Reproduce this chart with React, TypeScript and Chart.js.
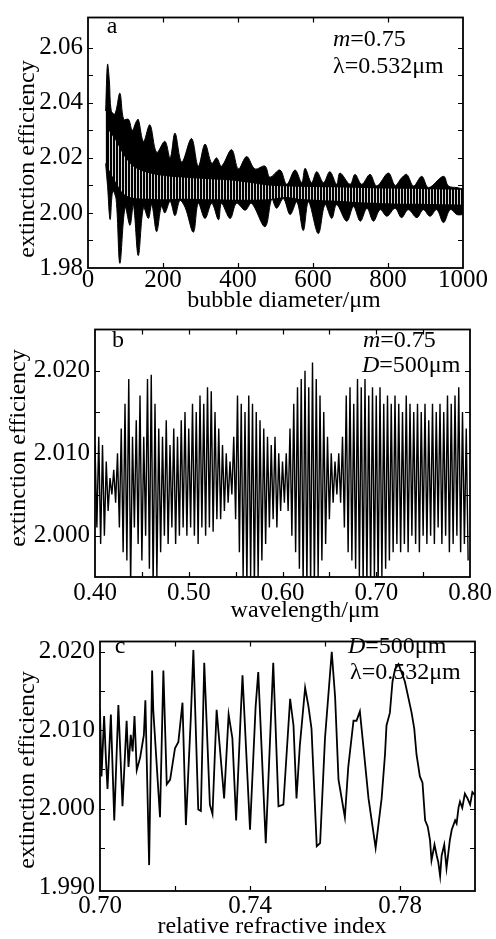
import React, { useEffect, useRef } from 'react';
import { Chart, registerables } from 'chart.js';

Chart.register(...registerables);

const SERIF = '"Liberation Serif", "Times New Roman", serif';

// ---------- Panel a: extinction efficiency vs bubble diameter (envelope of dense oscillation) ----------
const aUpperD = [47, 52, 57, 62, 72, 85, 95, 108, 118, 128, 134, 148, 165, 183, 205, 219, 232, 250, 276, 294, 312, 330, 343, 356, 383, 401, 423, 445, 472, 485, 512, 530, 552, 570, 579, 596, 610, 628, 645, 663, 672, 699, 712, 730, 752, 770, 801, 819, 836, 850, 868, 890, 908, 948, 961, 984, 1000];
const aUpperQ = [2.037, 2.054, 2.048, 2.037, 2.036, 2.0435, 2.034, 2.034, 2.030, 2.033, 2.034, 2.026, 2.032, 2.022, 2.026, 2.020, 2.029, 2.0185, 2.027, 2.017, 2.025, 2.018, 2.020, 2.017, 2.023, 2.016, 2.0205, 2.016, 2.017, 2.013, 2.0156, 2.0104, 2.0156, 2.011, 2.0162, 2.011, 2.015, 2.011, 2.015, 2.0104, 2.0145, 2.0104, 2.014, 2.0104, 2.014, 2.0098, 2.0145, 2.0100, 2.0127, 2.014, 2.0098, 2.0133, 2.0092, 2.0133, 2.0098, 2.0092, 2.0087];
const aLowerD = [47, 52, 59, 66, 75, 85, 99, 112, 121, 134, 148, 161, 170, 183, 196, 205, 219, 232, 245, 259, 281, 294, 312, 330, 348, 356, 379, 396, 419, 436, 472, 490, 503, 521, 539, 557, 574, 588, 614, 632, 650, 663, 690, 708, 726, 744, 761, 779, 797, 819, 836, 854, 877, 894, 912, 930, 948, 966, 984, 1000];
const aLowerQ = [2.018, 2.010, 1.9976, 2.008, 2.005, 1.9817, 2.002, 1.9955, 2.003, 1.9845, 2.002, 1.998, 2.003, 1.9932, 2.0025, 2.000, 2.0042, 1.999, 2.0045, 2.002, 1.993, 2.0035, 1.998, 2.0035, 1.9975, 2.0035, 1.998, 2.0035, 2.001, 2.0035, 1.995, 2.005, 2.0017, 2.0052, 1.9994, 2.004, 1.9936, 2.004, 1.9925, 2.003, 1.998, 2.003, 1.997, 2.0023, 1.997, 2.0017, 1.997, 2.0012, 1.9988, 2.0017, 1.9983, 2.0012, 1.9983, 2.0012, 1.9988, 2.0012, 1.9965, 2.0012, 1.9994, 1.9994];
const aBandD = [55, 75, 95, 120, 150, 200, 260, 330, 400, 480, 530, 560, 650, 750, 850, 1000];
const aBandTop = [2.030, 2.026, 2.021, 2.017, 2.015, 2.0135, 2.0128, 2.0122, 2.0115, 2.0100, 2.0097, 2.0095, 2.0093, 2.0090, 2.0088, 2.0084];
const aBandBottom = [2.016, 2.011, 2.007, 2.0055, 2.0052, 2.005, 2.0052, 2.005, 2.0048, 2.005, 2.0058, 2.0052, 2.0045, 2.0037, 2.0033, 2.003];
const aXTicks = [0, 200, 400, 600, 800, 1000];
const aYTicks = [1.98, 2.0, 2.02, 2.04, 2.06];
const aXMarks = [200, 400, 600, 800];
const aYMarks = [1.99, 2.0, 2.01, 2.02, 2.03, 2.04, 2.05, 2.06];

// ---------- Panel b: extinction efficiency vs wavelength (alternating crests / troughs) ----------
const bStart = 0.4;
const bStep = 0.004;
const bHigh = [2.011, 2.012, 2.011, 2.009, 2.007, 2.008, 2.010, 2.013, 2.016, 2.019, 2.012, 2.014, 2.017, 2.012, 2.019, 2.0195, 2.016, 2.013, 2.012, 2.014, 2.011, 2.013, 2.012, 2.014, 2.015, 2.013, 2.016, 2.015, 2.017, 2.016, 2.018, 2.0175, 2.015, 2.013, 2.011, 2.010, 2.009, 2.012, 2.017, 2.016, 2.015, 2.017, 2.016, 2.015, 2.014, 2.013, 2.012, 2.011, 2.012, 2.010, 2.009, 2.010, 2.013, 2.016, 2.018, 2.019, 2.020, 2.018, 2.021, 2.019, 2.017, 2.015, 2.012, 2.010, 2.009, 2.010, 2.012, 2.017, 2.018, 2.016, 2.019, 2.018, 2.019, 2.017, 2.018, 2.017, 2.018, 2.016, 2.017, 2.016, 2.017, 2.016, 2.015, 2.017, 2.016, 2.015, 2.016, 2.015, 2.016, 2.014, 2.016, 2.015, 2.016, 2.015, 2.017, 2.016, 2.017, 2.018, 2.015, 2.013];
const bLow = [2.001, 1.999, 2.000, 2.003, 2.005, 2.004, 2.001, 1.998, 1.997, 1.994, 2.001, 1.999, 1.997, 2.000, 1.996, 1.994, 1.995, 1.998, 2.000, 1.999, 2.001, 1.999, 2.000, 2.001, 2.000, 2.001, 2.000, 1.999, 2.001, 2.000, 2.001, 2.0005, 2.002, 2.002, 2.003, 2.004, 2.005, 2.002, 1.998, 1.995, 1.994, 1.995, 1.994, 1.995, 1.997, 1.999, 2.001, 2.002, 2.001, 2.003, 2.004, 2.003, 2.000, 1.998, 1.996, 1.994, 1.994, 1.994, 1.994, 1.995, 1.997, 1.999, 2.002, 2.004, 2.005, 2.004, 2.001, 1.998, 1.997, 1.996, 1.995, 1.994, 1.994, 1.994, 1.995, 1.994, 1.995, 1.996, 1.997, 1.998, 1.999, 1.998, 1.999, 1.998, 2.000, 1.999, 1.998, 2.000, 1.999, 2.000, 1.999, 2.001, 1.999, 2.000, 1.998, 1.999, 2.000, 1.998, 1.999, 1.997];
const bXTicks = [0.4, 0.5, 0.6, 0.7, 0.8];
const bYTicks = [2.0, 2.01, 2.02];
const bXMarks = [0.45, 0.5, 0.55, 0.6, 0.65, 0.7, 0.75];
const bYMarks = [2.0, 2.005, 2.01, 2.015, 2.02];

// ---------- Panel c: extinction efficiency vs relative refractive index ----------
const cIndex = [0.7000, 0.7004, 0.7011, 0.7016, 0.7020, 0.7029, 0.7038, 0.7049, 0.7060, 0.7071, 0.7076, 0.7082, 0.7087, 0.7092, 0.7098, 0.7107, 0.7117, 0.7121, 0.7131, 0.7139, 0.7142, 0.7160, 0.7169, 0.7178, 0.7187, 0.7200, 0.7209, 0.7220, 0.7229, 0.7242, 0.7249, 0.7262, 0.7269, 0.7278, 0.7293, 0.7300, 0.7311, 0.7331, 0.7343, 0.7353, 0.7363, 0.7375, 0.7380, 0.7400, 0.7415, 0.7422, 0.7442, 0.7462, 0.7476, 0.7489, 0.7507, 0.7516, 0.7524, 0.7533, 0.7547, 0.7556, 0.7564, 0.7578, 0.7587, 0.7600, 0.7618, 0.7627, 0.7636, 0.7653, 0.7662, 0.7676, 0.7684, 0.7693, 0.7702, 0.7716, 0.7735, 0.7751, 0.7760, 0.7764, 0.7773, 0.7780, 0.7787, 0.7796, 0.7804, 0.7813, 0.7831, 0.7838, 0.7844, 0.7853, 0.7860, 0.7867, 0.7874, 0.7880, 0.7884, 0.7892, 0.7898, 0.7902, 0.7907, 0.7911, 0.7918, 0.7924, 0.7933, 0.7938, 0.7947, 0.7951, 0.7956, 0.7960, 0.7966, 0.7973, 0.7980, 0.7987, 0.7993, 0.8000];
const cQext = [2.0126, 2.0041, 2.0118, 2.0061, 2.0025, 2.0120, 1.9985, 2.0132, 2.0003, 2.0112, 2.0053, 2.0094, 2.0073, 2.0118, 2.0049, 2.0065, 2.0094, 2.0138, 1.9928, 2.0176, 2.0126, 1.9989, 2.0176, 2.0031, 2.0037, 2.0077, 2.0085, 2.0135, 1.9979, 2.0114, 2.0202, 1.9999, 1.9997, 2.0186, 2.0005, 1.9993, 2.0126, 2.0013, 2.0120, 2.0090, 1.9985, 2.0118, 2.0170, 1.9973, 2.0130, 2.0174, 1.9956, 2.0186, 2.0003, 2.0005, 2.0140, 2.0106, 2.0013, 2.0081, 2.0154, 2.0130, 2.0102, 1.9952, 1.9956, 2.0090, 2.0200, 2.0142, 2.0037, 1.9989, 2.0053, 2.0112, 2.0112, 2.0124, 2.0081, 2.0013, 1.9950, 2.0013, 2.0069, 2.0106, 2.0122, 2.0162, 2.0178, 2.0184, 2.0174, 2.0162, 2.0122, 2.0102, 2.0069, 2.0041, 2.0033, 1.9985, 1.9977, 1.9960, 1.9934, 1.9954, 1.9940, 1.9932, 1.9914, 1.9940, 1.9954, 1.9924, 1.9960, 1.9973, 1.9985, 1.9981, 2.0001, 2.0009, 2.0001, 2.0019, 2.0013, 2.0005, 2.0021, 2.0017];
const cXTicks = [0.7, 0.74, 0.78];
const cYTicks = [1.99, 2.0, 2.01, 2.02];
const cXMarks = [0.72, 0.74, 0.76, 0.78];
const cYMarks = [1.995, 2.0, 2.005, 2.01, 2.015, 2.02];

const pts = (xs: number[], ys: number[]) => xs.map((x, i) => ({ x, y: ys[i] }));

// frame with inward tick marks on all four sides
const framePlugin = {
  id: 'frame',
  afterDatasetsDraw(chart: any, _args: any, opts: any) {
    const { ctx, chartArea } = chart;
    const { left, right, top, bottom } = chartArea;
    const xs = chart.scales.x;
    const ys = chart.scales.y;
    const L = opts.len || 5;
    ctx.save();
    ctx.strokeStyle = '#000';
    ctx.lineWidth = 1.2;
    ctx.beginPath();
    for (const v of opts.xMarks) {
      const p = Math.round(xs.getPixelForValue(v)) + 0.5;
      ctx.moveTo(p, bottom);
      ctx.lineTo(p, bottom - L);
      ctx.moveTo(p, top);
      ctx.lineTo(p, top + L);
    }
    for (const v of opts.yMarks) {
      const p = Math.round(ys.getPixelForValue(v)) + 0.5;
      ctx.moveTo(left, p);
      ctx.lineTo(left + L, p);
      ctx.moveTo(right, p);
      ctx.lineTo(right - L, p);
    }
    ctx.stroke();
    ctx.lineWidth = 1.8;
    ctx.strokeRect(left, top, right - left, bottom - top);
    ctx.restore();
  },
};

// panel letters, annotations and axis titles
const textPlugin = {
  id: 'texts',
  beforeDatasetsDraw(chart: any, _args: any, opts: any) {
    const ctx = chart.ctx;
    ctx.save();
    ctx.fillStyle = '#000';
    ctx.textBaseline = 'middle';
    ctx.textAlign = 'left';
    for (const it of opts.items) {
      const size = it.size || 24;
      const fontOf = (r: any) => `${r.i ? 'italic ' : ''}${size}px ${SERIF}`;
      let total = 0;
      for (const r of it.runs) {
        ctx.font = fontOf(r);
        total += ctx.measureText(r.t).width;
      }
      ctx.save();
      ctx.translate(it.x, it.y);
      if (it.rotate) ctx.rotate(-Math.PI / 2);
      let cx = it.align === 'center' ? -total / 2 : 0;
      for (const r of it.runs) {
        ctx.font = fontOf(r);
        ctx.fillText(r.t, cx, 0);
        cx += ctx.measureText(r.t).width;
      }
      ctx.restore();
    }
    ctx.restore();
  },
};

function xAxis(min: number, max: number, list: number[], fmt: (v: number) => string, pad: number, height: number) {
  return {
    type: 'linear',
    min,
    max,
    grid: { display: false, drawTicks: false },
    border: { display: false },
    afterBuildTicks: (s: any) => {
      s.ticks = list.map((v) => ({ value: v }));
    },
    afterFit: (s: any) => {
      s.height = height;
    },
    ticks: {
      color: '#000',
      font: { family: SERIF, size: 25, lineHeight: 1 },
      padding: pad,
      maxRotation: 0,
      minRotation: 0,
      autoSkip: false,
      callback: (v: any) => fmt(Number(v)),
    },
  };
}

function yAxis(min: number, max: number, list: number[], fmt: (v: number) => string, width: number) {
  return {
    type: 'linear',
    min,
    max,
    grid: { display: false, drawTicks: false },
    border: { display: false },
    afterBuildTicks: (s: any) => {
      s.ticks = list.map((v) => ({ value: v }));
    },
    afterFit: (s: any) => {
      s.width = width;
    },
    ticks: {
      color: '#000',
      font: { family: SERIF, size: 25, lineHeight: 1 },
      padding: 5,
      autoSkip: false,
      callback: (v: any) => fmt(Number(v)),
    },
  };
}

function baseOptions(pad: any, x: any, y: any, frame: any, texts: any) {
  return {
    responsive: false,
    animation: false,
    events: [],
    layout: { padding: pad },
    plugins: {
      legend: { display: false },
      tooltip: { enabled: false },
      frame,
      texts: { items: texts },
    },
    scales: { x, y },
  };
}

const lineStyle = {
  pointRadius: 0,
  tension: 0,
  borderColor: '#000',
};

export default function App() {
  const aRef = useRef<HTMLCanvasElement>(null);
  const bRef = useRef<HTMLCanvasElement>(null);
  const cRef = useRef<HTMLCanvasElement>(null);

  useEffect(() => {
    const charts: Chart[] = [];

    // hatch pattern for the lighter inner band of panel a
    const pc = document.createElement('canvas');
    pc.width = 3;
    pc.height = 1;
    const pctx = pc.getContext('2d')!;
    pctx.fillStyle = '#000000';
    pctx.fillRect(0, 0, 3, 1);
    pctx.fillStyle = '#d8d8d8';
    pctx.fillRect(1, 0, 1, 1);
    const hatch = aRef.current!.getContext('2d')!.createPattern(pc, 'repeat');

    charts.push(
      new Chart(aRef.current!, {
        type: 'line',
        data: {
          datasets: [
            { ...lineStyle, data: pts(aBandD, aBandTop), borderWidth: 0, tension: 0.3, fill: '+1', backgroundColor: hatch },
            { ...lineStyle, data: pts(aBandD, aBandBottom), borderWidth: 0, tension: 0.3, fill: false },
            { ...lineStyle, data: pts(aUpperD, aUpperQ), borderWidth: 1, tension: 0.35, fill: '+1', backgroundColor: '#000' },
            { ...lineStyle, data: pts(aLowerD, aLowerQ), borderWidth: 1, tension: 0.35, fill: false },
          ],
        } as any,
        options: baseOptions(
          { left: 0, top: 9, right: 33, bottom: 0 },
          xAxis(0, 1000, aXTicks, (v) => String(v), 0, 44),
          yAxis(1.98, 2.071, aYTicks, (v) => v.toFixed(2), 88),
          { xMarks: aXMarks, yMarks: aYMarks, len: 5 },
          [
            { x: 112, y: 27, runs: [{ t: 'a' }], align: 'center' },
            { x: 333, y: 40, runs: [{ t: 'm', i: true }, { t: '=0.75' }] },
            { x: 333, y: 67, runs: [{ t: 'λ=0.532μm' }] },
            { x: 284, y: 301, runs: [{ t: 'bubble diameter/μm' }], align: 'center' },
            { x: 28, y: 159, runs: [{ t: 'extinction efficiency' }], align: 'center', rotate: true },
          ]
        ) as any,
        plugins: [textPlugin, framePlugin] as any,
      })
    );

    const bData: any[] = [];
    bHigh.forEach((h, i) => {
      bData.push({ x: bStart + i * bStep, y: h });
      bData.push({ x: bStart + (i + 0.5) * bStep, y: bLow[i] });
    });

    charts.push(
      new Chart(bRef.current!, {
        type: 'line',
        data: {
          datasets: [{ ...lineStyle, data: bData, borderWidth: 1.4, fill: false }],
        } as any,
        options: baseOptions(
          { left: 0, top: 8, right: 26, bottom: 0 },
          xAxis(0.4, 0.8, bXTicks, (v) => v.toFixed(2), 4, 47),
          yAxis(1.995, 2.025, bYTicks, (v) => v.toFixed(3), 95),
          { xMarks: bXMarks, yMarks: bYMarks, len: 5 },
          [
            { x: 118, y: 29, runs: [{ t: 'b' }], align: 'center' },
            { x: 363, y: 29, runs: [{ t: 'm', i: true }, { t: '=0.75' }] },
            { x: 362, y: 54, runs: [{ t: 'D', i: true }, { t: '=500μm' }] },
            { x: 305, y: 299, runs: [{ t: 'wavelength/μm' }], align: 'center' },
            { x: 19, y: 136, runs: [{ t: 'extinction efficiency' }], align: 'center', rotate: true },
          ]
        ) as any,
        plugins: [textPlugin, framePlugin] as any,
      })
    );

    charts.push(
      new Chart(cRef.current!, {
        type: 'line',
        data: {
          datasets: [{ ...lineStyle, data: pts(cIndex, cQext), borderWidth: 1.8, fill: false }],
        } as any,
        options: baseOptions(
          { left: 0, top: 4, right: 21, bottom: 0 },
          xAxis(0.7, 0.8, cXTicks, (v) => v.toFixed(2), 3, 48),
          yAxis(1.9895, 2.0213, cYTicks, (v) => v.toFixed(3), 100),
          { xMarks: cXMarks, yMarks: cYMarks, len: 5 },
          [
            { x: 120, y: 23, runs: [{ t: 'c' }], align: 'center' },
            { x: 348, y: 23, runs: [{ t: 'D', i: true }, { t: '=500μm' }] },
            { x: 350, y: 49, runs: [{ t: 'λ=0.532μm' }] },
            { x: 272, y: 303, runs: [{ t: 'relative refractive index' }], align: 'center' },
            { x: 28, y: 146, runs: [{ t: 'extinction efficiency' }], align: 'center', rotate: true },
          ]
        ) as any,
        plugins: [textPlugin, framePlugin] as any,
      })
    );

    return () => charts.forEach((c) => c.destroy());
  }, []);

  return (
    <div style={{ position: 'absolute', left: 0, top: 0, width: 496, height: 939, background: '#fff' }}>
      <canvas ref={aRef} width={496} height={312} style={{ position: 'absolute', left: 0, top: 0 }} />
      <canvas ref={bRef} width={496} height={312} style={{ position: 'absolute', left: 0, top: 312 }} />
      <canvas ref={cRef} width={496} height={315} style={{ position: 'absolute', left: 0, top: 624 }} />
    </div>
  );
}
